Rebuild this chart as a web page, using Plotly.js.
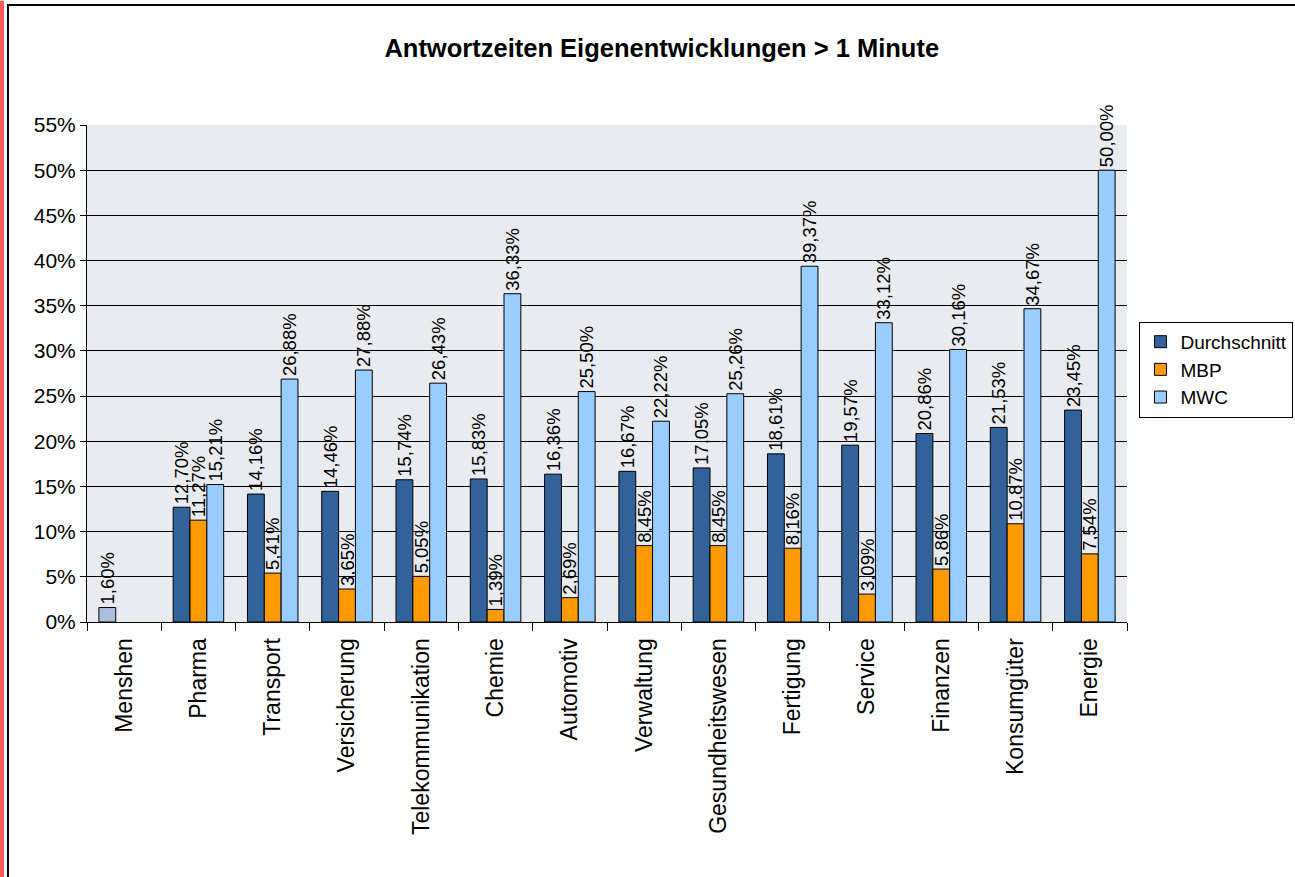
<!DOCTYPE html>
<html>
<head>
<meta charset="utf-8">
<script src="https://cdn.plot.ly/plotly-3.0.1.min.js"></script>
<style>html,body{margin:0;padding:0;background:#fff;}#chart{width:1295px;height:877px;}</style>
</head>
<body>
<div id="chart"></div>
<script>
const categories = ["Menshen","Pharma","Transport","Versicherung","Telekommunikation","Chemie","Automotiv","Verwaltung","Gesundheitswesen","Fertigung","Service","Finanzen","Konsumgüter","Energie"];
const durchschnitt = [null,12.70,14.16,14.46,15.74,15.83,16.36,16.67,17.05,18.61,19.57,20.86,21.53,23.45];
const menshen = [1.60,null,null,null,null,null,null,null,null,null,null,null,null,null];
const mbp = [null,11.27,5.41,3.65,5.05,1.39,2.69,8.45,8.45,8.16,3.09,5.86,10.87,7.54];
const mwc = [null,15.21,26.88,27.88,26.43,36.33,25.50,22.22,25.26,39.37,33.12,30.16,34.67,50.00];
const yTicks = [0,5,10,15,20,25,30,35,40,45,50,55];

const fmt = v => v == null ? "" : v.toFixed(2).replace(".", ",") + "%";
const font = "Liberation Sans, Arial, sans-serif";

function series(name, vals, color, group, showlegend) {
  return {
    type: "bar", name: name, x: categories, y: vals,
    offsetgroup: group, showlegend: showlegend,
    text: vals.map(fmt), textposition: "outside", textangle: -90,
    constraintext: "none", cliponaxis: false,
    textfont: {family: font, size: 18.5, color: "#000"},
    marker: {color: color, line: {color: "#000", width: 1}},
    hoverinfo: "skip"
  };
}

const data = [
  series("Durchschnitt", durchschnitt, "#31639a", "d", true),
  series("MBP", mbp, "#ff9900", "m", true),
  series("MWC", mwc, "#99ccff", "w", true),
  series("Menshen", menshen, "#a9bfdb", "d", false)
];

const layout = {
  width: 1295, height: 877,
  margin: {l: 87, r: 168, t: 125, b: 255, autoexpand: false},
  paper_bgcolor: "#ffffff", plot_bgcolor: "#e8ebef",
  font: {family: font, color: "#000"},
  title: {text: "<b>Antwortzeiten Eigenentwicklungen > 1 Minute</b>", font: {family: font, size: 25.5, color: "#000"}, x: 0.511, xanchor: "center", y: 0.945, yanchor: "middle"},
  barmode: "group", bargap: 0.32, bargroupgap: 0,
  showlegend: true,
  legend: {x: 1.012, y: 0.604, xanchor: "left", yanchor: "top", bgcolor: "#fff", bordercolor: "#000", borderwidth: 1, font: {family: font, size: 19}, traceorder: "normal", tracegroupgap: 0, itemwidth: 30},
  xaxis: {type: "category", tickangle: -90, tickfont: {family: font, size: 23}, ticks: "outside", tickson: "boundaries", ticklen: 8, tickcolor: "#000", ticklabelstandoff: 6, showline: true, linecolor: "#000", linewidth: 1, showgrid: false, fixedrange: true},
  yaxis: {range: [0, 55], tickvals: yTicks, ticktext: yTicks.map(v => v + "%"), tickfont: {family: font, size: 21}, ticks: "outside", ticklen: 6, tickcolor: "#000", showline: true, linecolor: "#000", showgrid: true, gridcolor: "#000", gridwidth: 1, zeroline: false, fixedrange: true},
  shapes: [
    {type: "rect", xref: "paper", yref: "paper", x0: -0.076, x1: 1.2, y0: -0.53, y1: 1.2414, line: {color: "#000", width: 2}, fillcolor: "rgba(0,0,0,0)", layer: "below"},
    {type: "rect", xref: "paper", yref: "paper", x0: -0.0837, x1: -0.0798, y0: -0.53, y1: 1.25, line: {width: 0}, fillcolor: "#ff5a5a", layer: "below"}
  ]
};

Plotly.newPlot("chart", data, layout, {displayModeBar: false, staticPlot: true});
</script>
</body>
</html>
